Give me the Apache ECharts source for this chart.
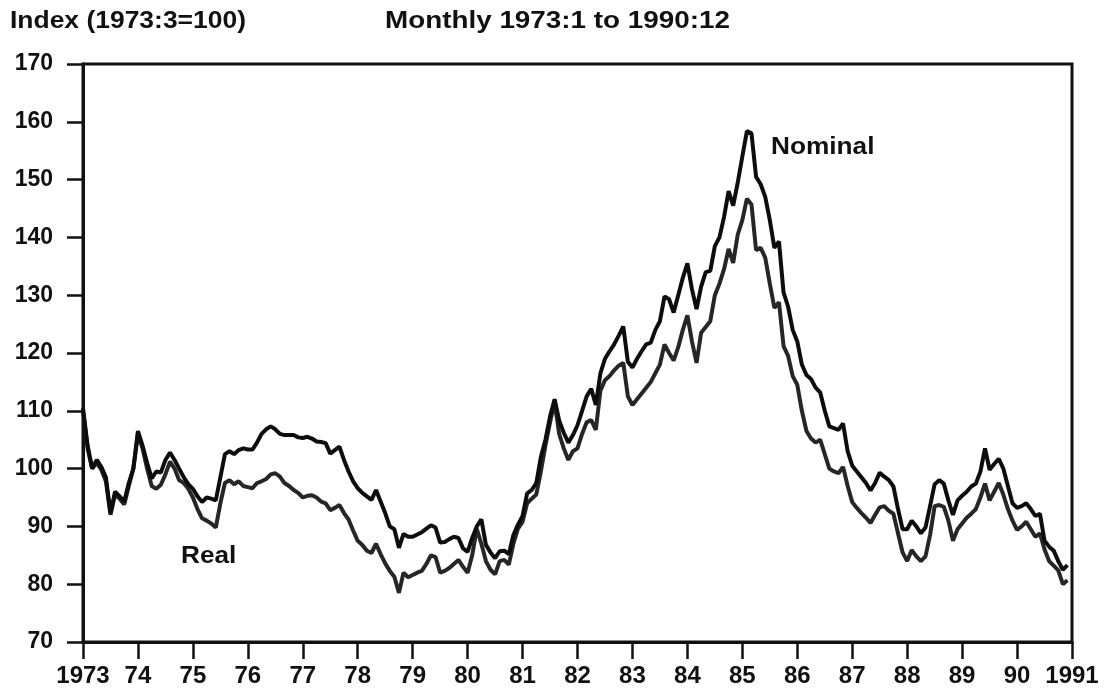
<!DOCTYPE html>
<html>
<head>
<meta charset="utf-8">
<title>Index (1973:3=100)</title>
<script src="https://cdn.jsdelivr.net/npm/echarts@6/dist/echarts.min.js"></script>
<style>
html, body {
  margin: 0;
  padding: 0;
  background: #fff;
}
.index_chart {
  width: 1105px;
  height: 691px;
}
</style>
</head>
<body>
<div class="index_chart" id="indexChart"></div>
<script>
// monthly values, 1973:1 .. 1990:12
const nominal = [
  110.5, 104, 100, 101.5, 100.3, 98.5, 92.3, 96, 95.2, 94.3, 97.5, 100, // 73
  106.5, 104, 101, 98.3, 99.5, 99.3, 101.5, 102.8, 101.5, 100, 98.5, 97.3, // 74
  96.5, 95.2, 94.2, 95, 94.8, 94.5, 98.5, 102.5, 103, 102.5, 103.2, 103.5, // 75
  103.3, 103.3, 104.5, 106, 106.8, 107.3, 106.8, 106, 105.8, 105.8, 105.8, 105.4, // 76
  105.3, 105.5, 105.2, 104.7, 104.6, 104.4, 102.6, 103.2, 103.8, 101.5, 99.5, 97.8, // 77
  96.6, 95.8, 95.2, 94.6, 96.3, 94.3, 92.3, 90, 89.5, 86.3, 88.7, 88.2, // 78
  88.2, 88.6, 89, 89.6, 90.2, 89.8, 87.2, 87.3, 87.8, 88.2, 88, 86.2, // 79
  85.6, 88, 90, 91.2, 86.8, 85.5, 84.5, 85.7, 85.8, 85.2, 88.5, 90.3, // 80
  91.8, 95.7, 96.3, 97.5, 102, 105, 109, 112, 108.3, 106.2, 104.5, 105.8, // 81
  107.5, 110, 112.5, 113.8, 111, 116.5, 119, 120.3, 121.5, 123, 124.6, 118.5, // 82
  117.5, 119, 120.3, 121.5, 121.8, 124, 125.5, 129.8, 129.3, 127, 130, 133, // 83
  135.5, 131, 127.6, 131.5, 134, 134.2, 138.5, 140, 143.5, 148, 145.5, 149.5, // 84
  154, 158.4, 158, 150.5, 149.2, 147, 143, 138.2, 139.3, 130.5, 128, 124, // 85
  122, 118, 116.2, 115.5, 114, 113.2, 110, 107.3, 107, 106.7, 107.8, 103, // 86
  100.5, 99.5, 98.5, 97.5, 96.2, 97.5, 99.3, 98.6, 98, 96.9, 93, 89.5, // 87
  89.5, 91, 90, 88.8, 89.8, 93.5, 97.3, 98, 97.4, 94.5, 92, 94.5, // 88
  95.3, 96, 96.9, 97.4, 99.5, 103.5, 99.8, 100.8, 101.7, 100, 97, 94, // 89
  93.2, 93.5, 94, 93, 91.8, 92.2, 87.5, 86.5, 85.8, 84, 82.5, 83.3 // 90
]
const real = [
  110, 103.5, 100, 101, 99.8, 97.8, 92, 95.5, 94.8, 93.8, 97, 100,
  106, 103.5, 100, 97, 96.5, 97.2, 99, 101.2, 100, 98, 97.5, 96.5,
  95, 93, 91.4, 91, 90.5, 89.8, 94, 97.5, 98, 97.3, 97.8, 97,
  96.8, 96.6, 97.5, 97.8, 98.2, 99, 99.2, 98.6, 97.5, 97, 96.3, 95.8,
  95, 95.3, 95.4, 95, 94.3, 94, 92.8, 93.2, 93.7, 92.3, 91.2, 89.3,
  87.5, 86.8, 85.8, 85.4, 87, 85.2, 83.6, 82.3, 81.3, 78.5, 82, 81.2,
  81.6, 82, 82.3, 83.5, 85, 84.7, 82, 82.3, 82.8, 83.5, 84.2, 83,
  82, 85, 89.6, 87, 84, 82.5, 81.7, 84, 84.2, 83.4, 87, 89.6,
  90.8, 94, 94.8, 95.5, 99.5, 104, 108, 111.5, 106, 103.5, 101.5, 103,
  103.5, 106, 108, 108.4, 106.7, 113.5, 115.3, 116, 117, 117.8, 118.3, 112.5,
  111, 112, 113, 114, 115, 116.5, 118, 121.5, 120, 118.7, 121, 124,
  126.5, 122, 118.3, 123.5, 124.5, 125.5, 130, 132, 134.5, 138, 135.6, 140.5,
  143, 146.7, 145.7, 137.8, 138.2, 136.5, 132, 127.8, 128.8, 121.2, 119.5, 116,
  114.5, 110, 106.5, 105.2, 104.5, 105, 102.5, 100, 99.5, 99.2, 100.3, 97,
  94.2, 93.2, 92.3, 91.5, 90.6, 92, 93.3, 93.5, 92.7, 92.2, 88.8, 85.5,
  84, 85.9, 84.8, 84, 84.8, 88.5, 93.5, 93.7, 93.4, 91, 87.5, 89.5,
  90.5, 91.5, 92.2, 93, 95, 97.4, 94.5, 96, 97.5, 95.5, 93, 91,
  89.4, 90, 90.8, 89.5, 88.2, 88.8, 86, 84, 83.2, 82.4, 80, 80.7
]
const yearLabels = ['1973', '74', '75', '76', '77', '78', '79', '80', '81',
  '82', '83', '84', '85', '86', '87', '88', '89', '90', '1991']
const startYear = 1973

const font = '"Liberation Sans", Arial, Helvetica, sans-serif'

// month index -> decimal year on the x axis
function toPoints (values) {
  return values.map((v, i) => [startYear + i / 12, v])
}

function textLabel (text, x, y, stretch) {
  return {
    type: 'text',
    x: x,
    y: y,
    scaleX: stretch,
    style: {
      text: text,
      fill: '#111',
      font: 'bold 23px ' + font,
      textAlign: 'left',
      textVerticalAlign: 'middle'
    }
  }
}

function indexChart () {
  const chart = echarts.init(document.getElementById('indexChart'))
  chart.setOption({
    animation: false,
    backgroundColor: '#fff',
    grid: {
      left: 83,
      right: 33,
      top: 64,
      bottom: 49,
      show: true,
      borderColor: '#111',
      borderWidth: 3
    },
    xAxis: {
      type: 'value',
      min: 1973,
      max: 1991,
      interval: 1,
      axisLine: { lineStyle: { color: '#111', width: 3 } },
      axisTick: { length: 17, lineStyle: { color: '#111', width: 2.5 } },
      axisLabel: {
        margin: 22,
        color: '#111',
        fontSize: 24,
        fontWeight: 'bold',
        fontFamily: font,
        formatter: v => yearLabels[Math.round(v - startYear)]
      },
      splitLine: { show: false }
    },
    yAxis: {
      type: 'value',
      min: 70,
      max: 170,
      interval: 10,
      axisLine: { show: true, lineStyle: { color: '#111', width: 3 } },
      axisTick: { show: true, length: 16, lineStyle: { color: '#111', width: 2.5 } },
      axisLabel: {
        margin: 30,
        color: '#111',
        fontSize: 23,
        fontWeight: 'bold',
        fontFamily: font
      },
      splitLine: { show: false }
    },
    series: [
      {
        name: 'Real',
        type: 'line',
        data: toPoints(real),
        showSymbol: false,
        lineStyle: { color: '#262626', width: 4 }
      },
      {
        name: 'Nominal',
        type: 'line',
        data: toPoints(nominal),
        showSymbol: false,
        lineStyle: { color: '#0d0d0d', width: 4 }
      }
    ],
    graphic: [
      textLabel('Index (1973:3=100)', 10, 22, 1.15),
      textLabel('Monthly 1973:1 to 1990:12', 385, 22, 1.21),
      textLabel('Nominal', 771, 148, 1.14),
      textLabel('Real', 181, 557, 1.14)
    ]
  })
}

indexChart()
</script>
</body>
</html>
